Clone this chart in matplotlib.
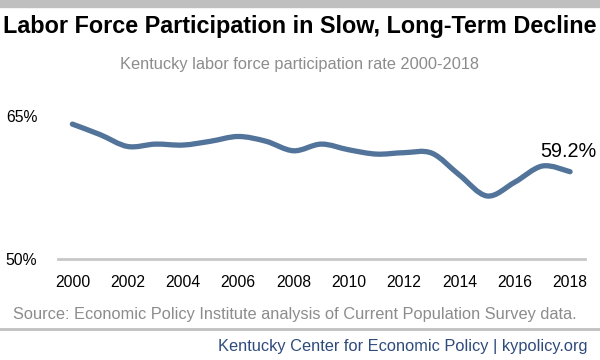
import matplotlib
matplotlib.use("Agg")
import matplotlib.pyplot as plt
from matplotlib.path import Path
from matplotlib.patches import PathPatch
from matplotlib.lines import Line2D
import numpy as np

plt.rcParams['font.family'] = ['Liberation Sans', 'DejaVu Sans']

years = [2000, 2001, 2002, 2003, 2004, 2005, 2006, 2007, 2008, 2009,
         2010, 2011, 2012, 2013, 2014, 2015, 2016, 2017, 2018]
rate = [64.2, 63.1, 61.85, 62.1, 62.0, 62.4, 62.9, 62.4, 61.4, 62.1,
        61.5, 61.05, 61.2, 61.15, 58.85, 56.65, 58.1, 59.8, 59.2]
xticks = [2000, 2002, 2004, 2006, 2008, 2010, 2012, 2014, 2016, 2018]
yticks = [50, 65]
ytick_labels = ["50%", "65%"]

title = "Labor Force Participation in Slow, Long-Term Decline"
subtitle = "Kentucky labor force participation rate 2000-2018"
source = "Source: Economic Policy Institute analysis of Current Population Survey data."
footer = "Kentucky Center for Economic Policy | kypolicy.org"
end_label = "59.2%"

LINE = "#52749a"

fig = plt.figure(figsize=(6, 3.6), dpi=100)
W, H = 600, 360

def fx(px):
    return px / W

def fy(py):
    return 1 - py / H

# top gray band
fig.patches.append(matplotlib.patches.Rectangle((0, fy(7)), 1, 7 / H,
                   transform=fig.transFigure, color="#bfbfbf", zorder=0))

ax = fig.add_axes([fx(58), fy(259.3), fx(585 - 58), (259.3 - 116.5) / H])
ax.set_xlim(1999.48, 2018.54)
ax.set_ylim(50, 65)

# smooth line (Catmull-Rom -> Bezier) through data points
x = np.array(years, dtype=float)
y = np.array(rate, dtype=float)
n = len(x)
verts = [(x[0], y[0])]
codes = [Path.MOVETO]
for i in range(n - 1):
    p0 = np.array([x[max(i - 1, 0)], y[max(i - 1, 0)]])
    p1 = np.array([x[i], y[i]])
    p2 = np.array([x[i + 1], y[i + 1]])
    p3 = np.array([x[min(i + 2, n - 1)], y[min(i + 2, n - 1)]])
    c1 = p1 + (p2 - p0) / 6.0
    c2 = p2 - (p3 - p1) / 6.0
    verts += [tuple(c1), tuple(c2), tuple(p2)]
    codes += [Path.CURVE4] * 3
patch = PathPatch(Path(verts, codes), facecolor="none", edgecolor=LINE,
                  lw=3.8, capstyle="round", joinstyle="round", zorder=3)
ax.add_patch(patch)

for s in ["top", "right", "left"]:
    ax.spines[s].set_visible(False)
ax.spines["bottom"].set_color("#c8c8c8")
ax.spines["bottom"].set_linewidth(2)

ax.set_xticks(xticks)
ax.set_xticklabels([str(t) for t in xticks])
ax.set_yticks(yticks)
ax.set_yticklabels(ytick_labels)
ax.tick_params(axis="both", length=0, labelsize=11.3, colors="#000000")
ax.tick_params(axis="x", pad=11)
ax.tick_params(axis="y", pad=15)

ax.annotate(end_label, (years[-1], rate[-1]), xytext=(-1, 10.5),
            textcoords="offset points", ha="center", va="baseline",
            fontsize=14.3, color="#000000")

fig.text(0.5, fy(26), title, ha="center", va="center", fontsize=16.8,
         fontweight="bold", color="#000000")
fig.text(0.5, fy(64), subtitle, ha="center", va="center", fontsize=11.8,
         color="#8c8c8c")
fig.text(fx(13), fy(314), source, ha="left", va="center", fontsize=11.75,
         color="#8c8c8c")
fig.add_artist(Line2D([0, 1], [fy(329), fy(329)], transform=fig.transFigure,
                      color="#c0c0c0", lw=2))
fig.text(fx(587), fy(346), footer, ha="right", va="center", fontsize=11.8,
         color="#2f4b7c")

fig.savefig("out.png", dpi=100)
